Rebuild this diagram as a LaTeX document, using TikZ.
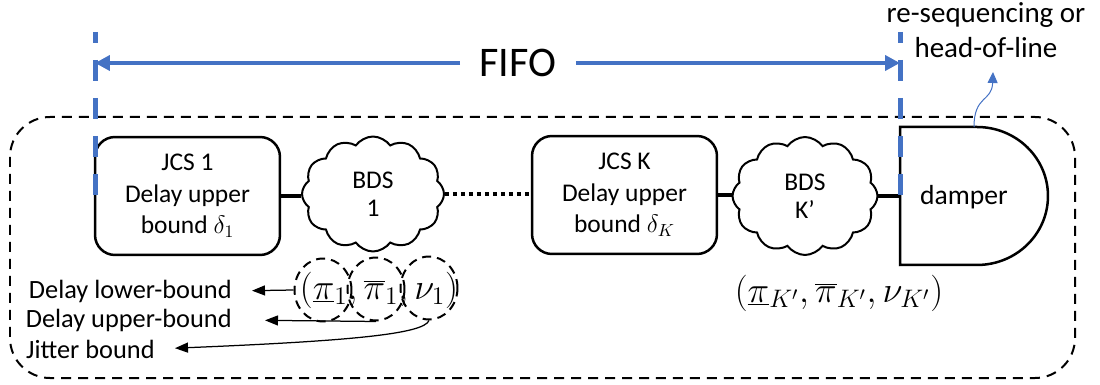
\documentclass[tikz,border=0pt]{standalone}
\usepackage{fontspec}
\setmainfont{Carlito}
\usetikzlibrary{shapes.symbols,shapes.geometric,arrows.meta}
\definecolor{fifoblue}{HTML}{4472C4}
\begin{document}
\begin{tikzpicture}[x=0.02cm,y=-0.02cm,
  jcsbox/.style={draw,line width=0.05cm,rounded corners=0.4cm,minimum width=3.7cm,
    minimum height=2.36cm,align=center,inner sep=0pt,font=\fontsize{14.5}{18}\selectfont},
  bds/.style={draw,cloud,cloud puffs=12,cloud puff arc=110,aspect=1.3,line width=0.04cm,
    minimum width=2.84cm,minimum height=2.3cm,align=center,inner sep=0pt,
    font=\fontsize{14.5}{16}\selectfont},
  link/.style={line width=0.09cm},
  dotlink/.style={line width=0.09cm,dash pattern=on 0.08cm off 0.08cm},
  lbl/.style={font=\fontsize{15}{18}\selectfont,anchor=east,inner sep=0pt},
  boundarrow/.style={-{Triangle[length=0.26cm,width=0.2cm]},line width=0.025cm},
  ring/.style={draw,ellipse,line width=0.04cm,dash pattern=on 0.18cm off 0.12cm,
    minimum width=1.14cm,minimum height=1.26cm,inner sep=0pt},
  fence/.style={fifoblue,line width=0.1cm,dash pattern=on 0.42cm off 0.34cm,dash phase=0.2cm},
  fifoarrow/.style={fifoblue,line width=0.08cm,-{Triangle[length=0.3cm,width=0.3cm]}},
  tuple/.style={font=\fontsize{22}{26}\selectfont,inner sep=0pt}
]
\useasboundingbox (0,0) rectangle (1100,385);

% enclosing dashed frame
\draw[line width=0.04cm,dash pattern=on 0.2cm off 0.14cm,rounded corners=0.8cm]
  (10,117) rectangle (1075,378);

% chain of shapers and delay sections
\node[jcsbox] (jcs1) at (187.5,196) {JCS 1\\Delay upper\\bound $\delta_1$};
\node[bds] (bds1) at (373,194) {BDS\\1};
\node[jcsbox] (jcsk) at (624.5,195) {JCS K\\Delay upper\\bound $\delta_K$};
\node[bds,minimum width=2.9cm,minimum height=2.36cm] (bdsk) at (805,196) {BDS\\K’};

% damper
\coordinate (dampl) at (900,196);
\coordinate (damptop) at (974,127);
\draw[line width=0.05cm] (900,127) -- (977,127)
  arc[start angle=90,end angle=-90,x radius=1.42cm,y radius=1.38cm] -- (900,265) -- cycle;
\node[font=\fontsize{15.7}{18}\selectfont] (damper) at (964,197) {damper};

\draw[link] (jcs1.east) -- (jcs1.east -| bds1.west);
\draw[dotlink] (bds1.east) -- (bds1.east -| jcsk.west);
\draw[link] (jcsk.east) -- (jcsk.east -| bdsk.west);
\draw[link] (bdsk.east) -- (bdsk.east -| dampl);

% FIFO span
\coordinate (fl) at (95,63);
\coordinate (fr) at (900,63);
\draw[fence] (95,32) -- (95,196);
\draw[fence] (900,32) -- (900,196);
\node[font=\fontsize{24}{28}\selectfont,inner xsep=0.38cm] (fifo) at (518,63) {FIFO};
\draw[fifoarrow] (fifo.west) -- (fl);
\draw[fifoarrow] (fifo.east) -- (fr);

% damper modes
\node[font=\fontsize{16.5}{20}\selectfont,align=center] (modes) at (986,30)
  {re-sequencing or\\head-of-line};
\coordinate (modetip) at (993,72);
\draw[fifoblue,line width=0.02cm,-{Triangle[length=0.22cm,width=0.2cm]}]
  (damptop) .. controls (974,95) and (992,102) .. (modetip);

% bound triples
\node[tuple] (tup1) at (379,290) {$(\underline{\pi}_1,\overline{\pi}_1,\nu_1)$};
\node[tuple] (tupk) at (839,293) {$(\underline{\pi}_{K'},\overline{\pi}_{K'},\nu_{K'})$};
\node[ring] (r1) at (323,290) {};
\node[ring] (r2) at (376,289) {};
\node[ring] (r3) at (429,288) {};

\node[lbl] (lowlbl) at (232,291) {Delay lower-bound};
\node[lbl] (uplbl) at (232,320) {Delay upper-bound};
\node[lbl] (jitlbl) at (155,349) {Jitter bound};

\draw[boundarrow,shorten >=0.4cm] (r1.west) -- (lowlbl.east);
\draw[boundarrow,shorten >=0.66cm] (r2.south) -- (uplbl.east);
\draw[boundarrow,shorten >=0.4cm] (r3.south) .. controls (424,334) and (350,341) .. (jitlbl.east);
\end{tikzpicture}
\end{document}
